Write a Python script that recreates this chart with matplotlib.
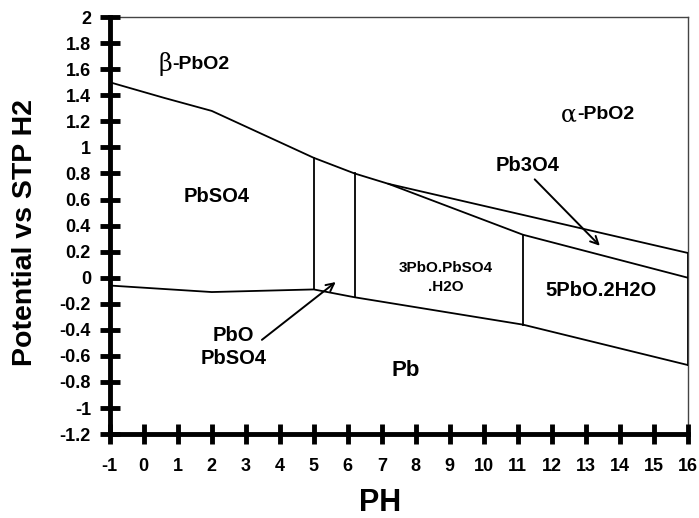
import matplotlib.pyplot as plt

plt.rcParams['font.family'] = ['Liberation Sans', 'DejaVu Sans']
plt.rcParams['font.weight'] = 'bold'

# boundary lines, (pH, potential) pairs
upper_ph = [-1, 0.6, 2, 5, 6.2, 7.2, 16]
upper_v = [1.50, 1.38, 1.28, 0.92, 0.80, 0.72, 0.19]

pb3o4_ph = [7.2, 11.15, 16]
pb3o4_v = [0.72, 0.33, 0.0]

lower_ph = [-1, 2, 5, 6.2, 11.15, 16]
lower_v = [-0.06, -0.11, -0.09, -0.15, -0.36, -0.67]

# vertical boundaries: pH, top, bottom
vert_ph = [5, 6.2, 11.15, 16]
vert_top = [0.92, 0.80, 0.33, 0.19]
vert_bot = [-0.09, -0.15, -0.36, -0.67]

x_ticks = list(range(-1, 17))
y_ticks = [round(-1.2 + 0.2 * i, 1) for i in range(17)]

fig = plt.figure(figsize=(6.99, 5.18), dpi=100)
ax = fig.add_axes([0.157, 0.162, 0.827, 0.805])

lw = 1.3
ax.plot(upper_ph, upper_v, color='black', lw=lw)
ax.plot(pb3o4_ph, pb3o4_v, color='black', lw=lw)
ax.plot(lower_ph, lower_v, color='black', lw=lw)
for xp, t, b in zip(vert_ph, vert_top, vert_bot):
    ax.plot([xp, xp], [b, t], color='black', lw=lw)

# region labels
fs = 14
greek = dict(family='DejaVu Serif', fontweight='normal', fontsize=17, va='center', ha='right')
ax.text(0.84, 1.64, '\u03b2', **greek)
ax.text(0.85, 1.64, '-PbO2', fontsize=fs, fontweight='bold', ha='left', va='center')
ax.text(12.74, 1.25, '\u03b1', **greek)
ax.text(12.76, 1.25, '-PbO2', fontsize=fs, fontweight='bold', ha='left', va='center')

ax.text(2.15, 0.62, 'PbSO4', fontsize=14.5, fontweight='bold', ha='center', va='center')
ax.text(11.3, 0.86, 'Pb3O4', fontsize=14.5, fontweight='bold', ha='center', va='center')
ax.text(8.88, 0.0, '3PbO.PbSO4\n.H2O', fontsize=11, fontweight='bold', ha='center', va='center',
        linespacing=1.5)
ax.text(13.45, -0.1, '5PbO.2H2O', fontsize=14.5, fontweight='bold', ha='center', va='center')
ax.text(7.7, -0.71, 'Pb', fontsize=16, fontweight='bold', ha='center', va='center')
ax.text(2.65, -0.53, 'PbO\nPbSO4', fontsize=14.5, fontweight='bold', ha='center', va='center',
        linespacing=1.3)

arrow = dict(arrowstyle='->', color='black', lw=1.4, mutation_scale=14)
ax.annotate('', xy=(13.47, 0.23), xytext=(11.44, 0.77), arrowprops=arrow)
ax.annotate('', xy=(5.71, -0.02), xytext=(3.41, -0.49), arrowprops=arrow)

ax.set_xlim(-1, 16)
ax.set_ylim(-1.2, 2)
ax.set_xticks(x_ticks)
ax.set_yticks(y_ticks)
ax.set_xticklabels([str(v) for v in x_ticks])
ax.set_yticklabels(['%g' % v for v in y_ticks])
ax.tick_params(direction='inout', length=15, width=3.5, labelsize=13)
ax.tick_params(axis='x', pad=10)
ax.tick_params(axis='y', pad=6)
for lab in ax.get_xticklabels() + ax.get_yticklabels():
    lab.set_fontweight('bold')

ax.spines['left'].set_linewidth(3.5)
ax.spines['bottom'].set_linewidth(3.5)
ax.spines['top'].set_linewidth(1.0)
ax.spines['right'].set_linewidth(1.0)
ax.spines['top'].set_color('#444444')
ax.spines['right'].set_color('#444444')
for s in ax.spines.values():
    s.set_zorder(1)

ax.set_xlabel('PH', fontsize=22, fontweight='bold')
ax.set_ylabel('Potential vs STP H2', fontsize=20.5, fontweight='bold')
ax.xaxis.set_label_coords(0.467, -0.13)
ax.yaxis.set_label_coords(-0.124, 0.484)

fig.savefig('out.png', dpi=100)
